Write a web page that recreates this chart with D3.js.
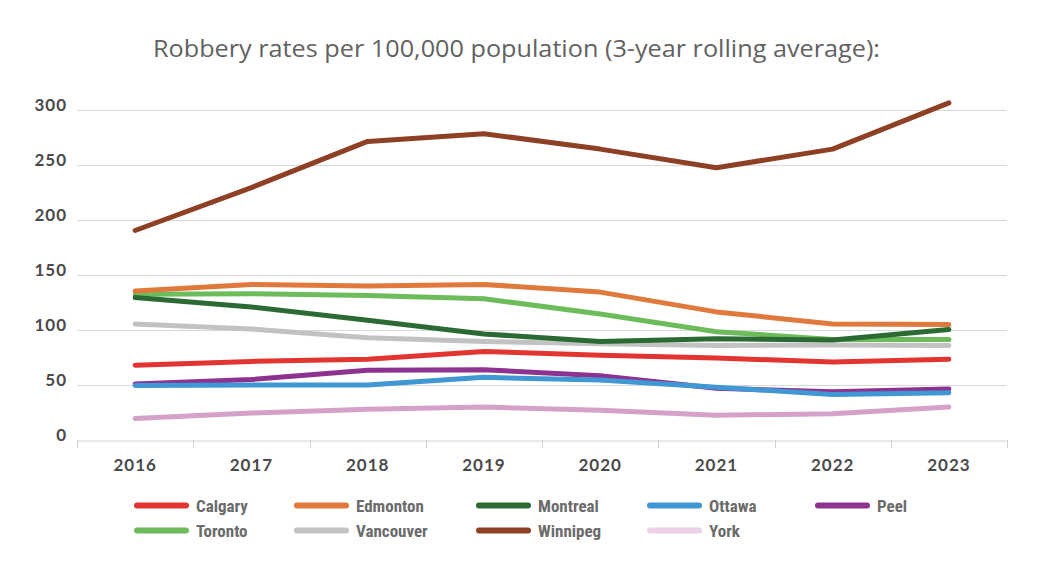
<!DOCTYPE html>
<html>
<head>
<meta charset="utf-8">
<script src="https://cdn.jsdelivr.net/npm/d3@7"></script>
<style>
  html, body { margin: 0; padding: 0; background: #fff; }
  svg { display: block; }
</style>
</head>
<body>
<svg id="chart" width="1046" height="568"></svg>
<script>
// ---- Data ----
const years = ["2016", "2017", "2018", "2019", "2020", "2021", "2022", "2023"];
const yTicks = [0, 50, 100, 150, 200, 250, 300];
const titleText = "Robbery rates per 100,000 population (3-year rolling average):";

const seriesNames = ["Calgary", "Edmonton", "Montreal", "Ottawa", "Peel", "Toronto", "Vancouver", "Winnipeg", "York"];
const calgary   = [67.5, 71, 73, 80, 76.5, 74, 70.5, 73];
const edmonton  = [135, 141, 139.5, 141, 134, 116, 105, 104.5];
const montreal  = [129, 120.5, 108.5, 96, 89, 91.5, 90.5, 100];
const ottawa    = [49, 49.5, 49.5, 56.5, 54, 47.5, 41, 42.5];
const peel      = [50.5, 54.5, 63, 63.5, 58, 46.5, 43.5, 46];
const toronto   = [132, 132.5, 131, 128, 114, 98, 91, 91];
const vancouver = [105, 100.5, 92.5, 89, 87, 85.5, 86, 85.5];
const winnipeg  = [190, 229, 271, 278, 264, 247, 264, 306];
const york      = [19, 24, 27.5, 29.5, 26.5, 22, 23.5, 29.5];
const seriesValues = [calgary, edmonton, montreal, ottawa, peel, toronto, vancouver, winnipeg, york];

const lineColors   = ["#e2352f", "#e07a3c", "#2b6a33", "#3f97d3", "#8d3290", "#6dbc5b", "#c2c2c2", "#8e4025", "#d6a1c9"];
const legendColors = ["#e2352f", "#e07a3c", "#2b6a33", "#3f97d3", "#8d3290", "#6dbc5b", "#c2c2c2", "#8e4025", "#ecd2e7"];

// ---- Layout ----
const svg = d3.select("#chart");
const plotL = 77, plotR = 1007, plotT = 109.5, plotB = 439.5;

const x = d3.scaleBand().domain(years).range([plotL, plotR]).padding(0);
const y = d3.scaleLinear().domain([0, 300]).range([plotB, plotT]);

// Title
svg.append("text")
  .attr("x", 153).attr("y", 57)
  .attr("textLength", 727)
  .attr("lengthAdjust", "spacingAndGlyphs")
  .attr("font-family", "'Open Sans', Lato, sans-serif")
  .attr("font-size", 24)
  .attr("fill", "#626262")
  .text(titleText);

// Gridlines
svg.append("g")
  .selectAll("line")
  .data(yTicks.filter(d => d > 0))
  .join("line")
  .attr("x1", plotL).attr("x2", plotR)
  .attr("y1", d => Math.round(y(d)) + 0.5).attr("y2", d => Math.round(y(d)) + 0.5)
  .attr("stroke", "#d9d9d9").attr("stroke-width", 1);

// Y labels
svg.append("g")
  .selectAll("text")
  .data(yTicks)
  .join("text")
  .attr("x", 67).attr("y", d => y(d) + 1.5)
  .attr("text-anchor", "end")
  .attr("font-family", "Lato, 'Open Sans', sans-serif")
  .attr("font-weight", 700)
  .attr("font-size", 17)
  .attr("letter-spacing", 1)
  .attr("fill", "#4a4a4a")
  .text(d => d);

// X axis
const xAxis = d3.axisBottom(x).tickSize(0).tickPadding(18);
const gx = svg.append("g").attr("transform", `translate(0,${Math.round(plotB) + 0.5})`).call(xAxis);
gx.select(".domain").attr("stroke", "#d0d0d0");
gx.selectAll("text")
  .attr("font-family", "Lato, 'Open Sans', sans-serif")
  .attr("font-weight", 700)
  .attr("font-size", 17)
  .attr("letter-spacing", 1)
  .attr("fill", "#4a4a4a");
// Boundary tick marks
const bounds = years.map(d => x(d)).concat([x(years[years.length - 1]) + x.bandwidth()]);
svg.append("g")
  .selectAll("line")
  .data(bounds)
  .join("line")
  .attr("x1", d => Math.round(d) + 0.5).attr("x2", d => Math.round(d) + 0.5)
  .attr("y1", Math.round(plotB)).attr("y2", Math.round(plotB) + 8)
  .attr("stroke", "#d0d0d0").attr("stroke-width", 1);

// Lines
const line = d3.line()
  .x((d, i) => x(years[i]) + x.bandwidth() / 2)
  .y(d => y(d))
  .curve(d3.curveLinear);

const order = seriesNames.map((n, i) => i).reverse();
svg.append("g")
  .selectAll("path")
  .data(order)
  .join("path")
  .attr("d", i => line(seriesValues[i]))
  .attr("fill", "none")
  .attr("stroke", i => lineColors[i])
  .attr("stroke-width", 5)
  .attr("stroke-linecap", "round")
  .attr("stroke-linejoin", "round");

// Legend
const colX = [134, 294, 476, 647, 815];
const rowY = [505.5, 530.5];
const lg = svg.append("g");
seriesNames.forEach((name, i) => {
  const col = i % 5, row = Math.floor(i / 5);
  const lx = colX[col], ly = rowY[row];
  lg.append("line")
    .attr("x1", lx + 3).attr("x2", lx + 52)
    .attr("y1", ly).attr("y2", ly)
    .attr("stroke", legendColors[i])
    .attr("stroke-width", 6)
    .attr("stroke-linecap", "round");
  lg.append("text")
    .attr("x", lx + 62).attr("y", ly + 6)
    .attr("font-family", "'Liberation Sans Narrow', 'Roboto', sans-serif")
    .attr("font-stretch", "condensed")
    .attr("font-weight", 700)
    .attr("font-size", 17)
    .attr("fill", "#6b6b6b")
    .text(name);
});
</script>
</body>
</html>
